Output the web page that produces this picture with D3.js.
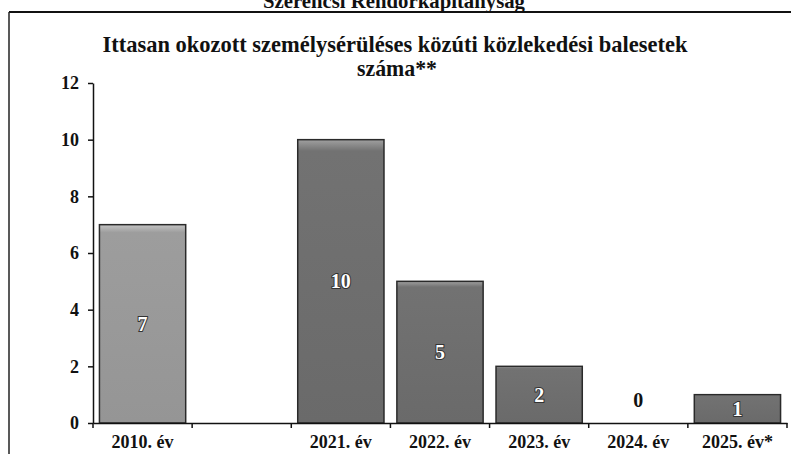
<!DOCTYPE html>
<html>
<head>
<meta charset="utf-8">
<script src="https://cdnjs.cloudflare.com/ajax/libs/d3/7.8.5/d3.min.js"></script>
<style>
    body { margin: 0; background: #fff; }
    svg { display: block; font-family: "Liberation Serif", "Times New Roman", serif; font-weight: bold; }
</style>
</head>
<body>
<svg id="chart" width="791" height="454"></svg>
<script>
// data
var categories = ['2010. év', '', '2021. év', '2022. év', '2023. év', '2024. év', '2025. év*'];
var values = [7, null, 10, 5, 2, 0, 1];
var yTicks = [0, 2, 4, 6, 8, 10, 12];
var headerText = 'Szerencsi Rendőrkapitányság';
var titleLines = ['Ittasan okozott személysérüléses közúti közlekedési balesetek', 'száma**'];

var svg = d3.select('#chart');
var W = 791, H = 454;

var margin = {left: 93, right: 4, top: 83, bottom: 31};

var x = d3.scaleBand()
    .domain(categories)
    .range([margin.left, W - margin.right])
    .paddingInner(0.13)
    .paddingOuter(0.065);

var y = d3.scaleLinear()
    .domain([0, 12])
    .range([H - margin.bottom, margin.top]);

var data = categories.map(function(c, i)
{
    return {cat: c, value: values[i], index: i};
});

// frame of the cropped page
svg.append('line')
    .attr('x1', 9).attr('x2', W).attr('y1', 12).attr('y2', 12)
    .attr('stroke', '#111').attr('stroke-width', 2);
svg.append('line')
    .attr('x1', 9).attr('x2', 9).attr('y1', 12).attr('y2', H)
    .attr('stroke', '#222').attr('stroke-width', 1.5);

// header, cut off at the top edge as in the scan
svg.append('text')
    .attr('x', 394).attr('y', 8)
    .attr('text-anchor', 'middle')
    .attr('font-size', 21)
    .attr('textLength', 262)
    .attr('lengthAdjust', 'spacingAndGlyphs')
    .attr('fill', '#111')
    .text(headerText);

// title
svg.append('text')
    .attr('x', 395).attr('y', 52)
    .attr('text-anchor', 'middle')
    .attr('font-size', 24)
    .attr('textLength', 585)
    .attr('lengthAdjust', 'spacingAndGlyphs')
    .attr('fill', '#111')
    .text(titleLines[0]);
svg.append('text')
    .attr('x', 397).attr('y', 76)
    .attr('text-anchor', 'middle')
    .attr('font-size', 24)
    .attr('textLength', 80)
    .attr('lengthAdjust', 'spacingAndGlyphs')
    .attr('fill', '#111')
    .text(titleLines[1]);

// gradients for the bars
var defs = svg.append('defs');
function addGradient(id, top, mid, bottom)
{
    var g = defs.append('linearGradient')
        .attr('id', id)
        .attr('x1', 0).attr('x2', 0).attr('y1', 0).attr('y2', 1);
    g.append('stop').attr('offset', '0%').attr('stop-color', top);
    g.append('stop').attr('offset', '4%').attr('stop-color', mid);
    g.append('stop').attr('offset', '100%').attr('stop-color', bottom);
}
addGradient('gradLight', '#c4c4c4', '#9d9d9d', '#959595');
addGradient('gradDark', '#a0a0a0', '#727272', '#6a6a6a');

// bars
var bars = data.filter(function(d) { return d.value !== null && d.value > 0; });

svg.append('g')
    .selectAll('rect')
    .data(bars)
    .enter()
    .append('rect')
    .attr('x', function(d) { return x(d.cat); })
    .attr('y', function(d) { return y(d.value); })
    .attr('width', x.bandwidth())
    .attr('height', function(d) { return y(0) - y(d.value); })
    .attr('fill', function(d) { return d.index === 0 ? 'url(#gradLight)' : 'url(#gradDark)'; })
    .attr('stroke', '#2a2a2a')
    .attr('stroke-width', 1.5);

// value labels
svg.append('g')
    .selectAll('text')
    .data(data.filter(function(d) { return d.value !== null; }))
    .enter()
    .append('text')
    .attr('x', function(d) { return x(d.cat) + x.bandwidth() / 2; })
    .attr('y', function(d) { return d.value > 0 ? y(d.value / 2) : y(0) - 23; })
    .attr('dy', '0.35em')
    .attr('text-anchor', 'middle')
    .attr('font-size', 20)
    .attr('fill', function(d) { return d.value > 0 ? '#fff' : '#111'; })
    .attr('stroke', function(d) { return d.value > 0 ? '#333' : 'none'; })
    .attr('stroke-width', 2)
    .attr('paint-order', 'stroke')
    .text(function(d) { return d.value; });

// y axis
var yAxis = svg.append('g')
    .attr('transform', 'translate(' + margin.left + ',0)')
    .call(d3.axisLeft(y).tickValues(yTicks).tickSize(5).tickPadding(9).tickSizeOuter(0));
yAxis.select('.domain').attr('stroke', '#111').attr('stroke-width', 1.5);
yAxis.selectAll('.tick line').attr('stroke', '#111').attr('stroke-width', 1.5);
yAxis.selectAll('.tick text')
    .attr('font-size', 18)
    .attr('font-family', '"Liberation Serif", "Times New Roman", serif')
    .attr('font-weight', 'bold')
    .attr('fill', '#111');

// x axis: labels at band centres, ticks at band boundaries
var xAxis = svg.append('g')
    .attr('transform', 'translate(0,' + y(0) + ')')
    .call(d3.axisBottom(x).tickSize(0).tickPadding(12).tickSizeOuter(0));
xAxis.select('.domain').attr('stroke', '#111').attr('stroke-width', 1.5);
xAxis.selectAll('.tick text')
    .attr('font-size', 18)
    .attr('font-family', '"Liberation Serif", "Times New Roman", serif')
    .attr('font-weight', 'bold')
    .attr('fill', '#111');

xAxis.selectAll('.boundary')
    .data(d3.range(categories.length + 1))
    .enter()
    .append('line')
    .classed('boundary', true)
    .attr('x1', function(i) { return x.range()[0] + i * x.step(); })
    .attr('x2', function(i) { return x.range()[0] + i * x.step(); })
    .attr('y1', 0)
    .attr('y2', 5)
    .attr('stroke', '#111')
    .attr('stroke-width', 1.5);
</script>
</body>
</html>
